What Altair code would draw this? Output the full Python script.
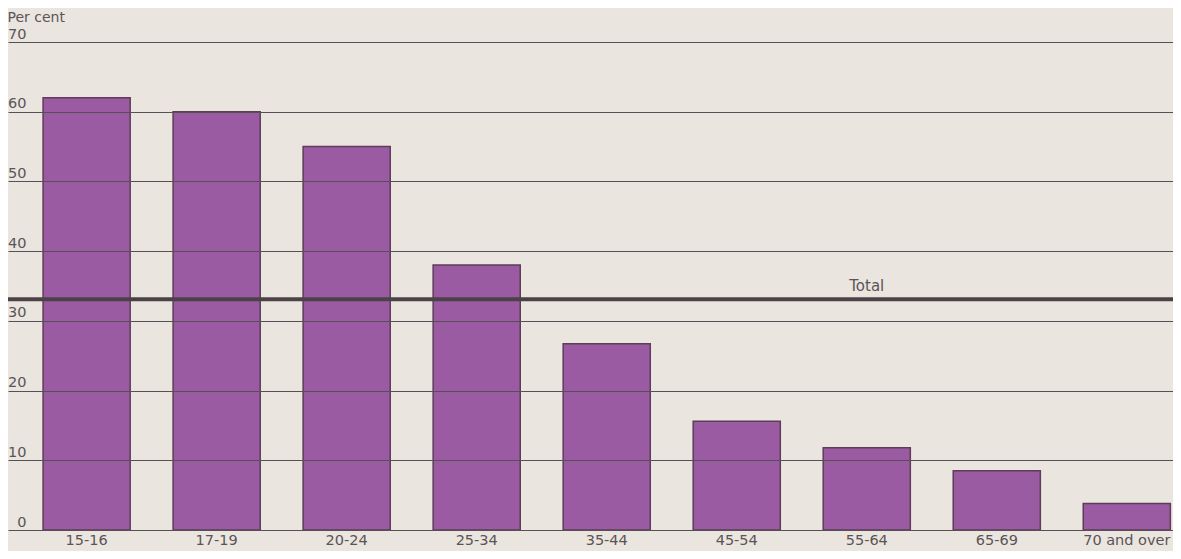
import altair as alt
import pandas as pd

categories = ["15-16", "17-19", "20-24", "25-34", "35-44", "45-54", "55-64", "65-69", "70 and over"]
values = [62.0, 60.0, 55.0, 38.0, 26.7, 15.6, 11.8, 8.5, 3.8]
total_value = 33.1
total_label = "Total"
total_label_cat = "55-64"
y_ticks = [0, 10, 20, 30, 40, 50, 60, 70]

df = pd.DataFrame({"cat": categories, "val": values})
tot = pd.DataFrame({"val": [total_value], "cat": [total_label_cat], "label": [total_label]})

FONT = "DejaVu Sans"
TEXT = "#5a5457"

xscale = alt.Scale(domain=categories, paddingInner=0.33, paddingOuter=0.145, align=0.93)
yscale = alt.Scale(domain=[0, 70], nice=False, zero=True)

bars = alt.Chart(df).mark_bar(
    color="#9a5ba2", stroke="#5e3c5a", strokeWidth=1.5, opacity=1
).encode(
    x=alt.X("cat:N", scale=xscale, sort=categories,
            axis=alt.Axis(title=None, labelAngle=0, ticks=False, domain=False,
                          labelPadding=3, labelFontSize=14.5, labelColor=TEXT, labelFont=FONT,
                          grid=False)),
    y=alt.Y("val:Q", scale=yscale,
            axis=alt.Axis(values=y_ticks, title="Per cent", titleAngle=0, titleAlign="left",
                          titleBaseline="alphabetic", titleX=-1, titleY=-21, titleFontSize=14,
                          titleFontWeight="normal", titleColor=TEXT, titleFont=FONT,
                          ticks=False, domain=False, labelAlign="right", labelBaseline="bottom",
                          labelPadding=-18, labelOffset=-1, labelFontSize=14.5, labelColor=TEXT,
                          labelFont=FONT, grid=True, gridColor="#555053", gridWidth=1.2,
                          gridOpacity=1, zindex=1)),
)

rule = alt.Chart(tot).mark_rule(color="#4a4246", strokeWidth=4).encode(
    y=alt.Y("val:Q", scale=yscale),
)

label = alt.Chart(tot).mark_text(
    baseline="alphabetic", dy=-8, fontSize=15, font=FONT, color=TEXT
).encode(
    x=alt.X("cat:N", scale=xscale, sort=categories),
    y=alt.Y("val:Q", scale=yscale),
    text="label:N",
)

chart = alt.layer(bars, rule, label).properties(
    width=1165, height=488,
    autosize=alt.AutoSizeParams(type="none"),
    padding={"left": 0, "top": 34, "right": 0, "bottom": 21},
).configure(background="#ebe5df").configure_view(stroke=None)

chart.save("out.html", embed_options={"renderer": "svg", "actions": False})
